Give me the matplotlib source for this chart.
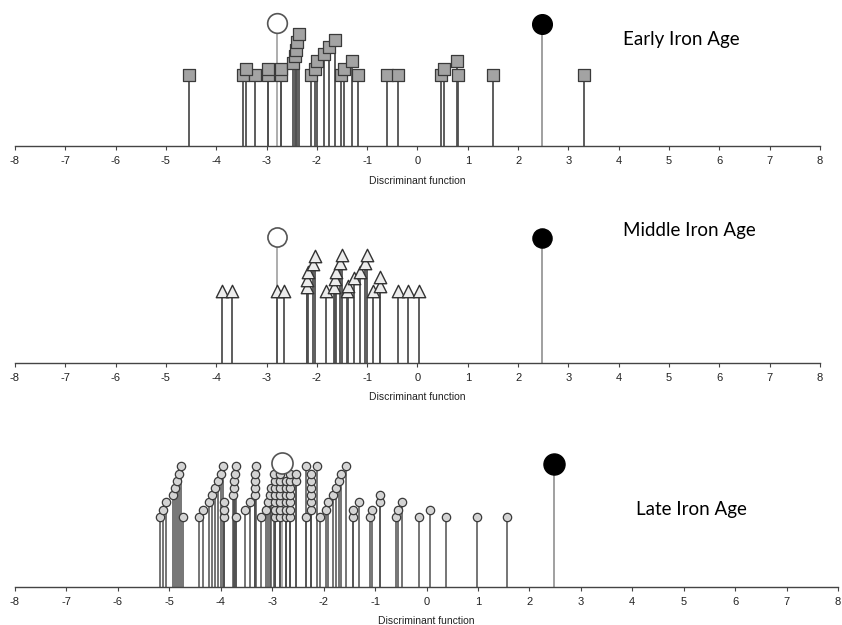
import matplotlib
matplotlib.use("Agg")
import matplotlib.pyplot as plt

plt.rcParams['axes.unicode_minus'] = False

# ---------------- data ----------------
ticks = list(range(-8, 9))
tick_labels = [str(t) for t in ticks]
xlabel = "Discriminant function"
titles = ["Early Iron Age", "Middle Iron Age", "Late Iron Age"]

# reference group centroids (open / filled circles)
centroid_open = -2.80
centroid_filled = 2.47

# Early Iron Age: discriminant scores and stack heights
early_x = [-4.54, -3.46, -3.41, -3.23, -2.98, -2.98, -2.72, -2.72,
           -2.48, -2.44, -2.42, -2.39, -2.36, -2.12, -2.04, -2.00,
           -1.86, -1.75, -1.64, -1.53, -1.46, -1.31, -1.19, -0.60,
           -0.38, 0.46, 0.52, 0.78, 0.80, 1.51, 3.30]
early_h = [71, 71, 77, 71, 71, 77, 71, 77,
           83, 90, 96.5, 104, 112.5, 71, 77, 85,
           92, 99, 106, 71, 77, 85, 71, 71,
           71, 71, 77, 85, 71, 71, 71]

# Middle Iron Age
middle_x = [-3.89, -3.68, -2.80, -2.65,
            -2.20, -2.20, -2.18, -2.08, -2.04,
            -1.81,
            -1.65, -1.64, -1.61, -1.54, -1.51,
            -1.41, -1.38, -1.26, -1.14, -1.04, -1.01,
            -0.88, -0.75, -0.75, -0.39, -0.18, 0.03]
middle_h = [72, 72, 72, 72,
            76, 83, 90.7, 98.7, 107.3,
            72,
            76, 83.7, 91.3, 99.7, 108,
            72, 77.3, 84.7, 91.3, 99.7, 108,
            72, 77.3, 85.7, 72, 72, 72]

# Late Iron Age: scores and stack level (0 = lowest)
late_x = [-5.19, -5.12, -5.07, -4.92, -4.88, -4.85, -4.82, -4.77, -4.73,
          -4.42, -4.34, -4.22, -4.17, -4.12, -4.06, -4.00, -3.96, -3.93, -3.93, -3.93,
          -3.71, -3.76, -3.74, -3.74, -3.73, -3.71,
          -3.52, -3.44, -3.33, -3.33, -3.33, -3.33, -3.32, -3.22,
          -3.12, -3.08, -3.05, -3.02, -2.96,
          -2.94, -2.94, -2.94, -2.94, -2.94, -2.94,
          -2.84, -2.84, -2.84, -2.84, -2.84, -2.84, -2.84,
          -2.74, -2.74, -2.74, -2.74, -2.74, -2.74,
          -2.65, -2.65, -2.65, -2.65, -2.65, -2.65, -2.65,
          -2.53, -2.53,
          -2.34, -2.34, -2.25, -2.25, -2.25, -2.25, -2.25, -2.25, -2.12, -2.08,
          -1.96, -1.92, -1.82, -1.76, -1.70, -1.66, -1.57,
          -1.42, -1.42, -1.32,
          -1.10, -1.06, -0.91, -0.90,
          -0.59, -0.55, -0.48,
          -0.14, 0.07, 0.37, 0.98, 1.57]
late_lvl = [0, 1, 2, 3, 4, 5, 6, 7, 0,
            0, 1, 2, 3, 4, 5, 6, 7, 0, 1, 2,
            0, 3, 4, 5, 6, 7,
            1, 2, 3, 4, 5, 6, 7, 0,
            1, 2, 3, 4, 6,
            0, 1, 2, 3, 4, 5,
            0, 1, 2, 3, 4, 5, 6,
            0, 1, 2, 3, 4, 5,
            0, 1, 2, 3, 4, 5, 6,
            5, 6,
            0, 7, 1, 2, 3, 4, 5, 6, 7, 0,
            1, 2, 3, 4, 5, 6, 7,
            0, 1, 2,
            0, 1, 2, 3,
            0, 1, 2,
            0, 1, 0, 0, 0]

# ---------------- layout ----------------
W, H = 842, 625
fig = plt.figure(figsize=(W / 100, H / 100), dpi=100)
tick_font = ["Liberation Sans Narrow", "Liberation Sans", "DejaVu Sans"]

def make_axes(axis_y, left_px, right_px, top_px, labelpad):
    h = axis_y - top_px
    ax = fig.add_axes([left_px / W, 1 - axis_y / H, (right_px - left_px) / W, h / H])
    ax.set_xlim(-8, 8)
    ax.set_ylim(0, h)
    for s in ("left", "right", "top"):
        ax.spines[s].set_visible(False)
    ax.spines["bottom"].set_color("#444444")
    ax.spines["bottom"].set_linewidth(1.0)
    ax.set_yticks([])
    ax.set_xticks(ticks)
    ax.set_xticklabels(tick_labels, fontsize=8, family=tick_font, color="#222222")
    ax.tick_params(axis="x", length=3, width=0.8, color="#444444", pad=4)
    ax.set_xlabel(xlabel, fontsize=7.5, family=tick_font, color="#222222", labelpad=labelpad)
    ax.patch.set_alpha(0)
    return ax

stem_col = "#505050"

def centroids(ax, h_open, h_fill, size):
    ax.vlines([centroid_open], 0, [h_open], color="#a0a0a0", lw=1.2, zorder=1)
    ax.vlines([centroid_filled], 0, [h_fill], color="#909090", lw=1.2, zorder=1)
    ax.scatter([centroid_open], [h_open], s=size, marker="o", facecolor="white",
               edgecolor="#555555", linewidth=1.2, zorder=5, clip_on=False)
    ax.scatter([centroid_filled], [h_fill], s=size, marker="o", facecolor="black",
               edgecolor="black", linewidth=1.0, zorder=5, clip_on=False)

# Early
ax1 = make_axes(146.5, 15, 820, 0, 7)
ax1.vlines(early_x, 0, early_h, color=stem_col, lw=1.3, zorder=2)
order = sorted(range(len(early_x)), key=lambda i: early_h[i])
ax1.scatter([early_x[i] for i in order], [early_h[i] for i in order], s=64, marker="s",
            facecolor="#a3a3a3", edgecolor="#3a3a3a", linewidth=0.9, zorder=3, clip_on=False)
centroids(ax1, 123, 122.5, 200)

# Middle
ax2 = make_axes(363, 15, 820, 215, 6.5)
ax2.vlines(middle_x, 0, middle_h, color=stem_col, lw=1.3, zorder=2)
order = sorted(range(len(middle_x)), key=lambda i: middle_h[i])
ax2.scatter([middle_x[i] for i in order], [middle_h[i] for i in order], s=80, marker="^",
            facecolor="#ececec", edgecolor="#333333", linewidth=1.0, zorder=3, clip_on=False)
centroids(ax2, 126.3, 125, 190)

# Late
base, step = 70.3, 7.2
late_h = [base + step * l for l in late_lvl]
ax3 = make_axes(587, 15, 838, 440, 6.5)
ax3.vlines(late_x, 0, late_h, color=stem_col, lw=1.1, zorder=2)
order = sorted(range(len(late_x)), key=lambda i: late_h[i])
ax3.scatter([late_x[i] for i in order], [late_h[i] for i in order], s=36, marker="o",
            facecolor="#d4d4d4", edgecolor="#3a3a3a", linewidth=0.9, zorder=3, clip_on=False)
centroids(ax3, 124.5, 123.5, 230)

# panel titles
fig.text(623 / W, 1 - 40 / H, titles[0], fontsize=13.5, family="Lato", va="center", ha="left")
fig.text(623 / W, 1 - 231 / H, titles[1], fontsize=13.5, family="Lato", va="center", ha="left")
fig.text(636 / W, 1 - 510 / H, titles[2], fontsize=13.5, family="Lato", va="center", ha="left")

fig.savefig("out.png", dpi=100)
